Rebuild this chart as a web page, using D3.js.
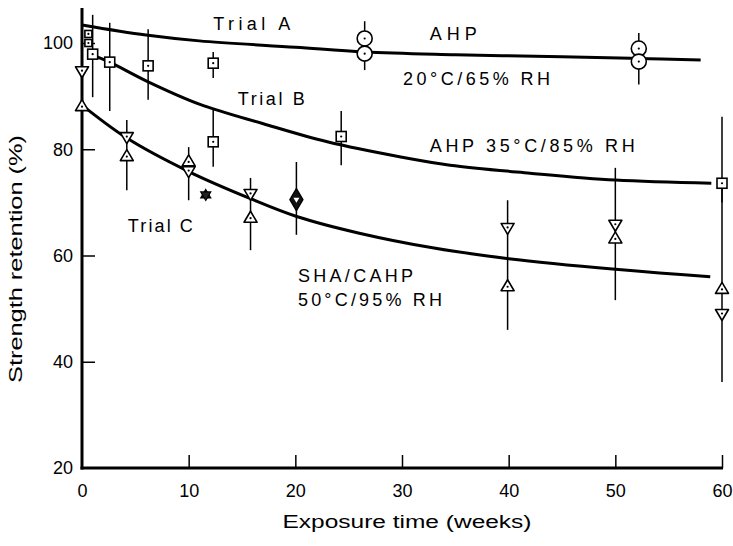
<!DOCTYPE html>
<html>
<head>
<meta charset="utf-8">
<script src="https://cdn.jsdelivr.net/npm/d3@7"></script>
<style>
  html, body { margin: 0; padding: 0; background: #fff; }
  svg { display: block; font-family: "Liberation Sans", Arial, sans-serif; }
</style>
</head>
<body>
<svg id="chart" width="733" height="546"></svg>
<script>
// ---------------- data ----------------
const xTicks = [0, 10, 20, 30, 40, 50, 60];
const yTicks = [20, 40, 60, 80, 100];

// fitted curves
const curveAWeeks  = [0, 6, 11, 20, 26.5, 35, 45, 52, 58];
const curveAValues = [103.4, 101.5, 100.4, 99.2, 98.3, 97.8, 97.4, 97.1, 96.8];
const curveBWeeks  = [1.3, 2.6, 6.2, 11, 17, 23, 30, 34.5, 42, 50, 59];
const curveBValues = [97.5, 96.4, 92.7, 88.5, 84.8, 81.4, 78.5, 77.0, 75.5, 74.2, 73.6];
const curveCWeeks  = [0, 4.2, 10, 15.8, 20.2, 26, 33, 40, 50, 58.9];
const curveCValues = [88.3, 82.1, 75.8, 70.7, 67.3, 64.2, 61.4, 59.4, 57.4, 56.0];

// Trial A (circles)
const aWeeks  = [26.5, 26.5, 52.2, 52.2];
const aValues = [100.85, 98.0, 98.96, 96.5];
const aBarWeeks = [26.5, 52.2];
const aBarLow   = [94.9, 92.2];
const aBarHigh  = [104.1, 101.9];
// small squares near the origin
const a0Weeks  = [0.6, 0.6];
const a0Values = [101.7, 100.0];

// Trial B (squares)
const bWeeks  = [1.0, 2.6, 6.2, 12.3, 12.3, 24.3, 60];
const bValues = [97.9, 96.4, 95.7, 96.2, 81.4, 82.4, 73.6];
const bLow    = [89.8, 87.2, 89.3, 93.4, 76.7, 77.0, 70.0];
const bHigh   = [105.3, 103.8, 102.6, 98.3, 87.4, 87.2, 86.1];

// Trial C (triangles up / down)
const cUpWeeks    = [0, 4.2, 10, 15.8, 39.9, 50, 60];
const cUpValues   = [88.3, 78.9, 77.9, 67.3, 54.4, 63.4, 53.9];
const cDownWeeks  = [0, 4.2, 10, 15.8, 39.9, 50, 60];
const cDownValues = [94.5, 82.1, 75.7, 71.4, 65.0, 65.6, 48.8];
const cBarWeeks = [4.2, 10, 15.8, 20.1, 39.9, 50, 60];
const cBarLow   = [72.3, 70.4, 61.0, 63.9, 46.0, 51.6, 36.2];
const cBarHigh  = [85.5, 80.4, 74.6, 77.6, 70.4, 76.5, 73.6];
// overlapping up/down points (drawn solid)
const cStarWeeks  = [11.6];
const cStarValues = [71.4];
const cDiamondWeeks  = [20.1];
const cDiamondValues = [70.5];

// annotations
const labelTexts  = ["Trial A", "AHP", "20°C/65% RH", "Trial B", "AHP 35°C/85% RH", "Trial C", "SHA/CAHP", "50°C/95% RH"];
const labelWeeks  = [12.3, 32.6, 30.1, 14.6, 32.6, 4.3, 20.25, 20.25];
const labelValues = [102.4, 100.6, 92.1, 88.3, 79.5, 64.4, 55.0, 50.5];
const labelWidths = [77, 47, 147, 67, 205, 65, 115, 144];

// ---------------- drawing ----------------
const svg = d3.select("#chart");
svg.append("rect").attr("width", 733).attr("height", 546).attr("fill", "#fff");

const x = d3.scaleLinear().domain([0, 60]).range([82, 722]);
const y = d3.scaleLinear().domain([20, 100]).range([468, 43]);
const yTop = 106.6;

// axes
const gx = svg.append("g").attr("transform", `translate(0,${y(20)})`)
  .call(d3.axisBottom(x).tickValues(xTicks).tickSize(-13).tickSizeOuter(0).tickPadding(16));
const gy = svg.append("g").attr("transform", `translate(${x(0)},0)`)
  .call(d3.axisLeft(y).tickValues(yTicks).tickSize(-13).tickSizeOuter(0).tickPadding(9));
[gx, gy].forEach(g => {
  g.select(".domain").remove();
  g.selectAll(".tick line").attr("stroke", "#000").attr("stroke-width", 1.5);
  g.selectAll(".tick text").attr("fill", "#000").attr("font-size", 18)
    .attr("font-family", "'Liberation Sans', Arial, sans-serif");
});
gy.selectAll(".tick").filter(d => d === 20).select("line").remove();
gx.selectAll(".tick").filter(d => d === 0).select("line").remove();

svg.append("line").attr("x1", x(0)).attr("x2", x(0)).attr("y1", y(yTop)).attr("y2", y(20) + 1.5)
  .attr("stroke", "#000").attr("stroke-width", 3);
svg.append("line").attr("x1", x(0) - 1.5).attr("x2", x(60) + 1).attr("y1", y(20)).attr("y2", y(20))
  .attr("stroke", "#000").attr("stroke-width", 3);

// axis titles
svg.append("text").attr("x", (x(0) + x(60)) / 2 + 5).attr("y", 528).attr("text-anchor", "middle")
  .attr("font-size", 18).attr("textLength", 249).attr("lengthAdjust", "spacingAndGlyphs")
  .text("Exposure time (weeks)");
svg.append("text").attr("transform", "translate(22,259) rotate(-90)").attr("text-anchor", "middle")
  .attr("font-size", 18).attr("textLength", 248).attr("lengthAdjust", "spacingAndGlyphs")
  .text("Strength retention (%)");

// curves
const line = d3.line().x(d => x(d[0])).y(d => y(d[1])).curve(d3.curveCatmullRom.alpha(0.5));
[[curveAWeeks, curveAValues], [curveBWeeks, curveBValues], [curveCWeeks, curveCValues]].forEach(([w, v]) => {
  svg.append("path").datum(w.map((d, i) => [d, v[i]])).attr("d", line)
    .attr("fill", "none").attr("stroke", "#000").attr("stroke-width", 3);
});

// error bars
function bars(weeks, lows, highs) {
  svg.append("g").selectAll("line").data(weeks).join("line")
    .attr("x1", d => x(d)).attr("x2", d => x(d))
    .attr("y1", (d, i) => y(highs[i])).attr("y2", (d, i) => y(lows[i]))
    .attr("stroke", "#000").attr("stroke-width", 1.5);
}
bars(aBarWeeks, aBarLow, aBarHigh);
bars(bWeeks, bLow, bHigh);
bars(cBarWeeks, cBarLow, cBarHigh);

// markers
const mg = svg.append("g");
function dot(cx, cy, c) {
  mg.append("circle").attr("cx", cx).attr("cy", cy).attr("r", 1.1).attr("fill", c || "#000");
}
function square(w, v, s) {
  w.forEach((d, i) => {
    const cx = x(d), cy = y(v[i]);
    mg.append("rect").attr("x", cx - s / 2).attr("y", cy - s / 2).attr("width", s).attr("height", s)
      .attr("fill", "#fff").attr("stroke", "#000").attr("stroke-width", 1.6);
    dot(cx, cy);
  });
}
function circle(w, v) {
  w.forEach((d, i) => {
    const cx = x(d), cy = y(v[i]);
    mg.append("circle").attr("cx", cx).attr("cy", cy).attr("r", 7.5)
      .attr("fill", "#fff").attr("stroke", "#000").attr("stroke-width", 1.6);
    dot(cx, cy);
  });
}
function tri(w, v, up, fill) {
  const tw = 13, th = 11;
  w.forEach((d, i) => {
    const cx = x(d), cy = y(v[i]);
    const s = up ? 1 : -1;
    const p = `M${cx},${cy - s * th / 2}L${cx + tw / 2},${cy + s * th / 2}L${cx - tw / 2},${cy + s * th / 2}Z`;
    mg.append("path").attr("d", p).attr("fill", fill).attr("stroke", "#000").attr("stroke-width", 1.6)
      .attr("stroke-linejoin", "round");
    if (fill === "#fff") dot(cx, cy + s * 1.5);
  });
}
circle(aWeeks, aValues);
square(a0Weeks, a0Values, 7);
square(bWeeks, bValues, 10);
tri(cDownWeeks, cDownValues, false, "#fff");
tri(cUpWeeks, cUpValues, true, "#fff");
// overlapped (solid) star marker
cStarWeeks.forEach((d, i) => {
  const cx = x(d), cy = y(cStarValues[i]);
  [1, -1].forEach(s => {
    mg.append("path")
      .attr("d", `M${cx},${cy - s * 5.5}L${cx + 5},${cy + s * 3}L${cx - 5},${cy + s * 3}Z`)
      .attr("fill", "#222").attr("stroke", "#000").attr("stroke-width", 1.2);
  });
});
// overlapped diamond marker
cDiamondWeeks.forEach((d, i) => {
  const cx = x(d), cy = y(cDiamondValues[i]);
  mg.append("path")
    .attr("d", `M${cx},${cy - 11}L${cx + 6.5},${cy}L${cx},${cy + 11}L${cx - 6.5},${cy}Z`)
    .attr("fill", "#111").attr("stroke", "#000").attr("stroke-width", 1.4).attr("stroke-linejoin", "round");
  mg.append("path")
    .attr("d", `M${cx - 3},${cy - 2}L${cx + 3},${cy - 2}L${cx},${cy + 3}Z`).attr("fill", "#fff");
});

// annotations
svg.append("g").selectAll("text").data(labelTexts).join("text")
  .attr("x", (d, i) => x(labelWeeks[i])).attr("y", (d, i) => y(labelValues[i]))
  .attr("font-size", 18).attr("fill", "#000")
  .attr("textLength", (d, i) => labelWidths[i]).attr("lengthAdjust", "spacing")
  .text(d => d);
</script>
</body>
</html>
